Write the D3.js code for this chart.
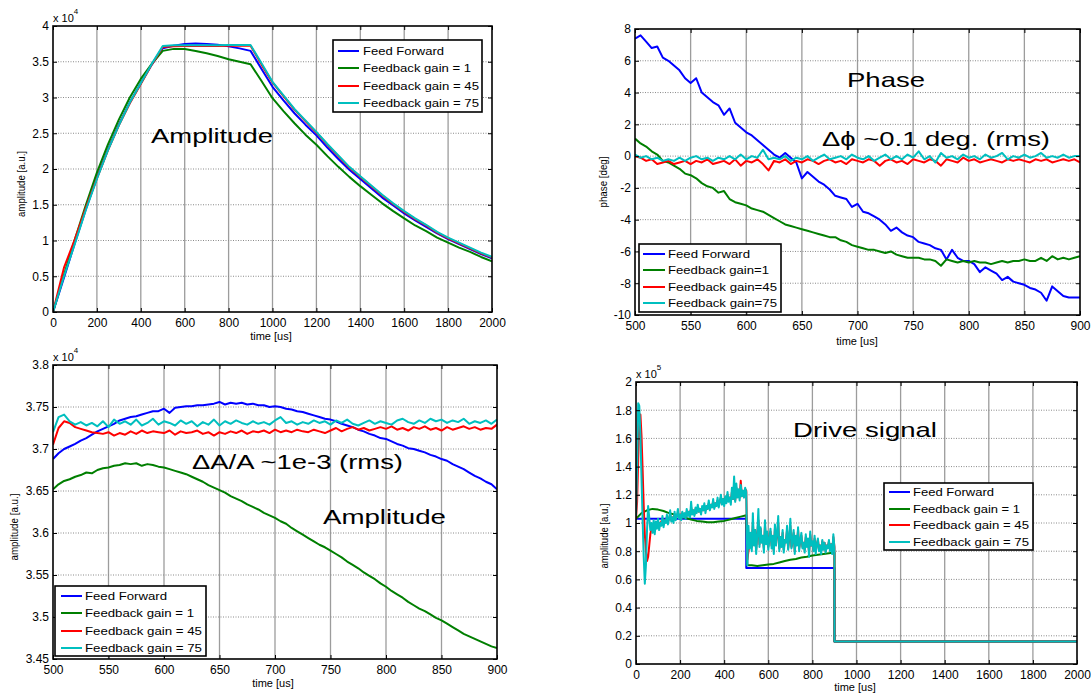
<!DOCTYPE html>
<html>
<head>
<meta charset="utf-8">
<script src="https://cdn.jsdelivr.net/npm/d3@7"></script>
<style>
  html, body { margin: 0; padding: 0; background: #fff; }
  svg { display: block; }
</style>
</head>
<body>
<svg id="fig" width="1091" height="693"></svg>
<script>
// ---------- series names and colours ----------
const seriesNames = ["Feed Forward", "Feedback gain = 1", "Feedback gain = 45", "Feedback gain = 75"];
const phaseNames = ["Feed Forward", "Feedback gain=1", "Feedback gain=45", "Feedback gain=75"];
const seriesColors = ["#0000ff", "#007f00", "#ff0000", "#00bfbf"];

// ---------- panel 1: amplitude over the full pulse (x 1e4), t = 0..2000 us every 50 us ----------
const ampTime = d3.range(0, 2001, 50);
const ampFF = [0,0.48,0.97,1.44,1.88,2.27,2.62,2.93,3.20,3.46,
  3.69,3.725,3.747,3.754,3.750,3.737,3.715,3.687,3.652,
  3.40,3.15,2.96,2.78,2.62,2.47,2.30,2.14,1.99,1.86,1.73,1.60,1.49,1.38,1.28,1.19,1.10,1.02,0.95,0.88,0.81,0.75];
const ampG1 = [0,0.52,1.02,1.50,1.95,2.34,2.69,3.00,3.26,3.47,
  3.652,3.68,3.678,3.651,3.619,3.58,3.536,3.499,3.465,
  3.23,2.99,2.81,2.64,2.48,2.34,2.18,2.03,1.89,1.76,1.64,1.52,1.41,1.31,1.21,1.13,1.04,0.97,0.90,0.84,0.77,0.71];
const ampG45 = [0,0.62,1.02,1.46,1.87,2.26,2.61,2.92,3.19,3.46,
  3.705,3.718,3.72,3.72,3.72,3.722,3.725,3.725,3.725,
  3.46,3.21,3.02,2.83,2.67,2.51,2.34,2.18,2.02,1.89,1.76,1.63,1.51,1.40,1.30,1.21,1.11,1.03,0.96,0.89,0.82,0.76];
const ampG75 = [0,0.50,0.96,1.43,1.86,2.26,2.61,2.93,3.20,3.47,
  3.72,3.73,3.73,3.73,3.73,3.732,3.733,3.733,3.733,
  3.48,3.22,3.03,2.84,2.68,2.52,2.35,2.19,2.03,1.90,1.77,1.64,1.52,1.41,1.31,1.22,1.12,1.04,0.97,0.90,0.83,0.77];

// ---------- panel 2: phase during flat top, t = 500..900 us every 5 us ----------
const flatTime = d3.range(500, 901, 5);
const phaseFF = [7.4,7.6,7.2,6.8,6.9,6.2,6.0,5.7,5.4,4.9,
  4.6,4.9,4.0,3.7,3.4,3.2,2.6,3.0,2.1,1.8,
  1.5,1.3,1.0,0.7,0.4,0.1,-0.1,0.2,-0.1,-0.4,
  -1.4,-1.0,-1.3,-1.6,-1.8,-2.1,-2.5,-2.6,-2.7,-3.2,
  -3.0,-3.5,-3.6,-3.8,-4.0,-4.3,-4.7,-4.5,-4.8,-5.0,
  -5.1,-5.4,-5.5,-5.6,-5.8,-5.9,-6.5,-5.9,-6.4,-6.6,
  -6.6,-6.8,-7.3,-7.0,-7.2,-7.4,-7.8,-7.6,-7.9,-8.0,
  -8.1,-8.3,-8.4,-8.6,-9.1,-8.2,-8.5,-8.8,-8.9,-8.9,
  -8.9];
const phaseG1 = [1.1,0.8,0.6,0.3,0.1,-0.3,-0.4,-0.6,-0.8,-1.1,
  -1.2,-1.4,-1.7,-1.9,-2.0,-2.3,-2.2,-2.7,-2.9,-3.0,
  -3.1,-3.3,-3.4,-3.5,-3.7,-3.9,-4.1,-4.3,-4.4,-4.5,
  -4.6,-4.7,-4.8,-4.9,-5.0,-5.1,-5.1,-5.3,-5.4,-5.6,
  -5.7,-5.8,-5.9,-5.9,-6.0,-6.1,-6.0,-6.2,-6.3,-6.4,
  -6.4,-6.4,-6.5,-6.5,-6.6,-6.9,-6.5,-6.6,-6.7,-6.6,
  -6.7,-6.6,-6.7,-6.7,-6.8,-6.7,-6.6,-6.7,-6.6,-6.6,
  -6.5,-6.6,-6.6,-6.4,-6.6,-6.3,-6.5,-6.4,-6.5,-6.4,
  -6.3];
const phaseG45 = [0.0,-0.1,-0.3,-0.2,-0.5,-0.4,-0.3,-0.5,-0.4,-0.3,
  -0.5,-0.3,-0.4,-0.2,-0.5,-0.4,-0.3,-0.5,-0.2,-0.6,
  -0.3,-0.4,-0.2,-0.5,-0.9,-0.3,-0.4,-0.2,-0.5,-0.3,
  -0.4,-0.2,-0.3,-0.5,-0.3,-0.2,-0.4,-0.3,-0.5,-0.2,
  -0.3,-0.4,-0.2,-0.3,-0.6,-0.3,-0.2,-0.4,-0.3,-0.5,
  -0.2,-0.3,-0.4,-0.2,-0.3,-0.6,-0.2,-0.3,-0.4,-0.1,
  -0.3,-0.2,-0.4,-0.3,-0.2,-0.3,-0.4,-0.2,-0.3,-0.2,
  -0.3,-0.4,-0.2,-0.3,-0.2,-0.4,-0.3,-0.2,-0.3,-0.2,
  -0.4];
const phaseG75 = [0.1,-0.1,0.0,-0.2,-0.1,-0.3,-0.2,-0.3,-0.1,-0.3,
  -0.1,0.0,-0.2,-0.1,-0.3,-0.1,-0.2,0.0,-0.2,0.1,
  -0.2,0.0,-0.1,0.4,-0.2,-0.1,-0.2,0.0,-0.3,-0.1,
  -0.2,0.0,-0.3,-0.1,0.1,-0.2,-0.1,0.0,-0.2,0.1,
  -0.1,-0.2,0.0,-0.3,-0.1,0.1,-0.2,0.0,-0.2,0.1,
  -0.1,0.3,-0.2,0.0,-0.4,0.2,-0.1,0.0,-0.2,0.1,
  -0.1,0.0,-0.2,0.1,-0.1,0.0,0.2,-0.2,0.0,-0.1,
  0.1,-0.1,0.0,0.2,-0.1,0.0,-0.1,0.1,-0.1,0.0,
  0.0];

// ---------- panel 3: amplitude during flat top (x 1e4), t = 500..900 us every 5 us ----------
const flatFF = [3.688,3.695,3.700,3.703,3.706,3.710,3.713,3.717,3.721,3.724,
  3.727,3.730,3.734,3.736,3.738,3.739,3.741,3.743,3.745,3.745,
  3.748,3.743,3.749,3.750,3.751,3.751,3.752,3.752,3.753,3.754,
  3.756,3.753,3.755,3.754,3.755,3.753,3.754,3.752,3.752,3.750,
  3.751,3.750,3.748,3.747,3.745,3.744,3.742,3.740,3.738,3.736,
  3.735,3.733,3.730,3.728,3.726,3.723,3.721,3.718,3.716,3.713,
  3.712,3.709,3.706,3.704,3.701,3.700,3.698,3.696,3.693,3.691,
  3.688,3.686,3.682,3.679,3.676,3.672,3.668,3.665,3.661,3.658,
  3.652];
const flatG1 = [3.652,3.658,3.662,3.664,3.667,3.669,3.672,3.671,3.675,3.677,
  3.678,3.680,3.681,3.683,3.682,3.683,3.680,3.682,3.681,3.679,
  3.678,3.676,3.674,3.672,3.670,3.667,3.664,3.661,3.657,3.654,
  3.651,3.648,3.644,3.641,3.638,3.634,3.631,3.628,3.624,3.621,
  3.618,3.614,3.611,3.606,3.602,3.598,3.594,3.590,3.586,3.583,
  3.579,3.575,3.571,3.566,3.562,3.558,3.553,3.549,3.545,3.540,
  3.536,3.531,3.527,3.523,3.518,3.514,3.510,3.507,3.503,3.499,
  3.496,3.492,3.488,3.484,3.480,3.477,3.474,3.471,3.468,3.465,
  3.463];
const flatG45 = [3.705,3.725,3.733,3.731,3.726,3.724,3.722,3.720,3.719,3.718,
  3.720,3.716,3.719,3.717,3.721,3.718,3.722,3.719,3.721,3.720,
  3.719,3.722,3.717,3.721,3.719,3.720,3.722,3.718,3.720,3.716,
  3.720,3.718,3.721,3.719,3.722,3.718,3.721,3.720,3.722,3.719,
  3.723,3.720,3.722,3.720,3.723,3.721,3.720,3.723,3.721,3.719,
  3.722,3.725,3.721,3.724,3.726,3.723,3.725,3.722,3.724,3.726,
  3.724,3.727,3.723,3.725,3.722,3.726,3.724,3.727,3.723,3.725,
  3.722,3.726,3.723,3.725,3.727,3.724,3.726,3.723,3.725,3.724,
  3.729];
const flatG75 = [3.720,3.738,3.741,3.733,3.729,3.732,3.728,3.731,3.727,3.733,
  3.726,3.735,3.730,3.733,3.729,3.735,3.728,3.731,3.736,3.729,
  3.733,3.731,3.728,3.734,3.730,3.733,3.727,3.732,3.729,3.735,
  3.728,3.733,3.730,3.734,3.731,3.729,3.733,3.730,3.732,3.729,
  3.734,3.738,3.731,3.733,3.729,3.732,3.730,3.734,3.731,3.733,
  3.729,3.734,3.731,3.735,3.730,3.728,3.731,3.734,3.730,3.733,
  3.731,3.729,3.734,3.736,3.732,3.730,3.734,3.731,3.736,3.733,
  3.735,3.731,3.734,3.732,3.736,3.730,3.733,3.731,3.734,3.730,
  3.735];

// ---------- panel 4: drive signal (x 1e5) ----------
const driveFFTime = [0, 500, 500, 900, 900, 2000];
const driveFF = [1.03, 1.03, 0.68, 0.68, 0.16, 0.16];
const driveG1Time = [0,25,50,75,100,125,150,175,200,225,250,275,300,325,350,375,400,425,450,475,500,
  505,525,550,575,600,625,650,675,700,725,750,775,800,825,850,875,900,900,2000];
const driveG1 = [1.03,1.07,1.09,1.10,1.095,1.085,1.07,1.06,1.045,1.035,1.025,1.015,1.01,1.005,1.005,1.01,1.015,1.025,1.035,1.045,1.055,
  0.70,0.70,0.695,0.70,0.705,0.71,0.72,0.73,0.74,0.745,0.755,0.76,0.77,0.775,0.78,0.785,0.79,0.16,0.16];
// 0..900 us every 5 us, then the final step down held to 2000 us
const driveTime = d3.range(0, 901, 5).concat([900, 2000]);
const driveG45 = [1.03,1.15,1.45,1.70,1.77,1.62,1.38,1.12,0.92,0.80,
  0.73,0.76,0.84,0.92,0.96,0.95,0.98,0.96,0.99,0.98,
  1.01,0.98,1.00,1.01,1.03,0.99,1.02,1.01,1.04,1.01,
  1.03,1.06,1.02,1.04,1.02,1.06,1.03,1.05,1.07,1.04,
  1.06,1.03,1.07,1.05,1.06,1.04,1.08,1.06,1.08,1.05,
  1.11,1.07,1.09,1.06,1.10,1.08,1.11,1.08,1.10,1.08,
  1.11,1.09,1.12,1.09,1.12,1.10,1.14,1.10,1.13,1.12,
  1.15,1.11,1.14,1.13,1.16,1.12,1.15,1.18,1.14,1.17,
  1.14,1.18,1.15,1.20,1.16,1.18,1.15,1.22,1.17,1.28,
  1.16,1.25,1.19,1.23,1.18,1.30,1.19,1.22,1.20,1.24,
  1.23,0.74,0.80,0.85,0.90,0.83,1.00,0.86,0.95,0.81,
  0.92,1.02,0.85,0.96,0.87,0.90,0.82,0.98,0.86,0.93,
  0.83,0.89,0.94,0.84,0.90,0.80,0.96,0.85,0.92,1.00,
  0.82,0.90,0.84,0.93,0.81,0.88,0.87,0.95,0.82,0.89,
  0.98,0.83,0.87,0.93,0.80,0.90,0.85,0.95,0.82,0.87,
  0.91,0.83,0.86,0.81,0.90,0.84,0.88,0.79,0.92,0.84,
  0.86,0.81,0.89,0.80,0.85,0.88,0.81,0.84,0.80,0.87,
  0.82,0.86,0.80,0.84,0.83,0.87,0.81,0.85,0.80,0.90,
  0.83,0.16,0.16];
const driveG75 = [1.05,1.40,1.85,1.83,1.62,1.32,1.02,0.76,0.57,0.70,
  0.95,1.12,1.04,0.95,1.00,0.93,1.02,0.92,1.01,0.96,
  1.03,0.95,1.00,0.98,1.05,0.97,1.02,1.00,1.06,0.99,
  1.03,1.09,1.01,1.04,1.00,1.08,1.02,1.05,1.10,1.03,
  1.06,1.02,1.08,1.04,1.07,1.03,1.10,1.05,1.08,1.04,
  1.15,1.06,1.09,1.05,1.11,1.07,1.13,1.08,1.10,1.06,
  1.12,1.09,1.14,1.07,1.12,1.10,1.16,1.09,1.13,1.11,
  1.17,1.10,1.14,1.12,1.18,1.11,1.15,1.20,1.13,1.17,
  1.12,1.19,1.14,1.22,1.15,1.18,1.13,1.25,1.17,1.33,
  1.15,1.28,1.18,1.24,1.16,1.27,1.19,1.23,1.18,1.25,
  1.22,0.70,0.98,0.82,0.93,0.80,1.07,0.84,0.95,0.78,
  0.92,1.10,0.83,0.97,0.86,0.91,0.79,1.02,0.85,0.94,
  0.81,0.89,0.96,0.82,0.91,0.78,0.99,0.84,0.93,1.05,
  0.80,0.90,0.83,0.95,0.79,0.88,0.86,0.98,0.81,0.90,
  1.03,0.82,0.87,0.95,0.78,0.91,0.84,0.97,0.80,0.88,
  0.93,0.82,0.86,0.79,0.92,0.83,0.89,0.76,0.94,0.84,
  0.87,0.80,0.91,0.78,0.85,0.89,0.80,0.84,0.78,0.88,
  0.81,0.86,0.79,0.84,0.82,0.88,0.80,0.85,0.78,0.92,
  0.82,0.16,0.16];

// ---------- tick values ----------
const ticksT2000 = d3.range(0, 2001, 200);
const ticksT900 = d3.range(500, 901, 50);
const ticksAmp = [0, 0.5, 1, 1.5, 2, 2.5, 3, 3.5, 4];
const ticksPhase = [-10, -8, -6, -4, -2, 0, 2, 4, 6, 8];
const ticksFlat = [3.45, 3.5, 3.55, 3.6, 3.65, 3.7, 3.75, 3.8];
const ticksDrive = [0, 0.2, 0.4, 0.6, 0.8, 1, 1.2, 1.4, 1.6, 1.8, 2];

// ---------- drawing ----------
const FONT = "'Liberation Sans', Arial, Helvetica, sans-serif";
const svg = d3.select("#fig");
svg.append("rect").attr("width", 1091).attr("height", 693).attr("fill", "#fff");

const fmt = d => String(+d.toFixed(2));

function drawPanel(p, idx) {
  const g = svg.append("g");
  const x = d3.scaleLinear().domain(p.xDomain).range([p.box[0], p.box[2]]);
  const y = d3.scaleLinear().domain(p.yDomain).range([p.box[3], p.box[1]]);
  const [L, T, R, B] = p.box;

  // grid: solid vertical lines, dotted horizontal lines
  g.append("g").selectAll("line").data(p.xTicks.slice(1, -1)).join("line")
    .attr("x1", d => x(d)).attr("x2", d => x(d)).attr("y1", T).attr("y2", B)
    .attr("stroke", "#9c9c9c").attr("stroke-width", 1.3);
  g.append("g").selectAll("line").data(p.yTicks.slice(1, -1)).join("line")
    .attr("x1", L).attr("x2", R).attr("y1", d => y(d)).attr("y2", d => y(d))
    .attr("stroke", "#8a8a8a").attr("stroke-width", 1).attr("stroke-dasharray", "1,1.5");

  // data lines
  const clipId = "clip" + idx;
  svg.append("clipPath").attr("id", clipId).append("rect")
    .attr("x", L).attr("y", T).attr("width", R - L).attr("height", B - T);
  const lg = g.append("g").attr("clip-path", `url(#${clipId})`);
  p.series.forEach((s, i) => {
    const pts = s.v.map((v, k) => [s.t[k], v]);
    lg.append("path")
      .attr("d", d3.line().x(d => x(d[0])).y(d => y(d[1]))(pts))
      .attr("fill", "none").attr("stroke", seriesColors[i])
      .attr("stroke-width", 2).attr("stroke-linejoin", "round");
  });

  // axes with inward ticks on all four sides
  const styleAxis = sel => {
    sel.select(".domain").remove();
    sel.selectAll(".tick line").attr("stroke", "#000").attr("stroke-width", 1);
    sel.selectAll("text").attr("font-family", FONT).attr("font-size", 12).attr("fill", "#000");
  };
  g.append("g").attr("transform", `translate(0,${B})`)
    .call(d3.axisBottom(x).tickValues(p.xTicks).tickSize(-4).tickPadding(6).tickFormat(fmt)).call(styleAxis);
  g.append("g").attr("transform", `translate(0,${T})`)
    .call(d3.axisTop(x).tickValues(p.xTicks).tickSize(-4).tickFormat("")).call(styleAxis);
  g.append("g").attr("transform", `translate(${L},0)`)
    .call(d3.axisLeft(y).tickValues(p.yTicks).tickSize(-4).tickPadding(4).tickFormat(fmt)).call(styleAxis);
  g.append("g").attr("transform", `translate(${R},0)`)
    .call(d3.axisRight(y).tickValues(p.yTicks).tickSize(-4).tickFormat("")).call(styleAxis);

  // frame
  g.append("rect").attr("x", L).attr("y", T).attr("width", R - L).attr("height", B - T)
    .attr("fill", "none").attr("stroke", "#000").attr("stroke-width", 1.6);

  // exponent marker
  if (p.exponent) {
    const e = g.append("text").attr("x", L).attr("y", T - 4)
      .attr("font-family", FONT).attr("font-size", 11).attr("fill", "#000");
    e.append("tspan").text("x 10");
    e.append("tspan").attr("dy", -8).attr("font-size", 8).text(p.exponent);
  }

  // axis titles
  g.append("text").attr("x", p.xLabel[0]).attr("y", p.xLabel[1]).attr("text-anchor", "middle")
    .attr("font-family", FONT).attr("font-size", 11).attr("fill", "#000").text("time [us]");
  g.append("text")
    .attr("transform", `translate(${p.yLabel[0]},${p.yLabel[1]}) rotate(-90)`)
    .attr("text-anchor", "middle").attr("font-family", FONT).attr("font-size", 11)
    .attr("textLength", p.yLabel[3]).attr("lengthAdjust", "spacingAndGlyphs")
    .attr("fill", "#000").text(p.yLabel[2]);

  // annotations
  p.notes.forEach(n => {
    g.append("text").attr("x", n.x).attr("y", n.y)
      .attr("font-family", FONT).attr("font-size", 21).attr("fill", "#000")
      .attr("textLength", n.w).attr("lengthAdjust", "spacingAndGlyphs").text(n.text);
  });

  // legend
  const lgd = p.legend;
  g.append("rect").attr("x", lgd.box[0]).attr("y", lgd.box[1])
    .attr("width", lgd.box[2] - lgd.box[0]).attr("height", lgd.box[3] - lgd.box[1])
    .attr("fill", "#fff").attr("stroke", "#000").attr("stroke-width", 1.6);
  p.names.forEach((name, i) => {
    const yy = lgd.rows[i];
    g.append("line").attr("x1", lgd.line[0]).attr("x2", lgd.line[1]).attr("y1", yy).attr("y2", yy)
      .attr("stroke", seriesColors[i]).attr("stroke-width", 2);
    g.append("text").attr("x", lgd.textX).attr("y", yy + 4)
      .attr("font-family", FONT).attr("font-size", 11.5).attr("fill", "#000")
      .attr("textLength", lgd.widths[i]).attr("lengthAdjust", "spacingAndGlyphs").text(name);
  });
}

const panels = [
  {
    box: [53, 26, 492, 312], xDomain: [0, 2000], yDomain: [0, 4],
    xTicks: ticksT2000, yTicks: ticksAmp, exponent: "4",
    series: [
      { t: ampTime, v: ampFF }, { t: ampTime, v: ampG1 },
      { t: ampTime, v: ampG45 }, { t: ampTime, v: ampG75 }
    ],
    names: seriesNames,
    xLabel: [271, 340], yLabel: [25, 184, "amplitude [a.u.]", 66],
    notes: [{ text: "Amplitude", x: 151, y: 143, w: 122 }],
    legend: { box: [333, 40, 482, 112], rows: [51, 68, 86, 103], line: [338, 359], textX: 363, widths: [81, 108, 116, 116] }
  },
  {
    box: [635, 29, 1080, 315], xDomain: [500, 900], yDomain: [-10, 8],
    xTicks: ticksT900, yTicks: ticksPhase, exponent: null,
    series: [
      { t: flatTime, v: phaseFF }, { t: flatTime, v: phaseG1 },
      { t: flatTime, v: phaseG45 }, { t: flatTime, v: phaseG75 }
    ],
    names: phaseNames,
    xLabel: [857, 345], yLabel: [607, 182, "phase [deg]", 51],
    notes: [
      { text: "Phase", x: 847, y: 87, w: 78 },
      { text: "\u0394\u03d5 ~0.1 deg. (rms)", x: 822, y: 146, w: 228 }
    ],
    legend: { box: [639, 244, 781, 312], rows: [254, 270, 287, 303], line: [643, 665], textX: 668, widths: [82, 101, 109, 109] }
  },
  {
    box: [53, 365, 497, 659], xDomain: [500, 900], yDomain: [3.45, 3.8],
    xTicks: ticksT900, yTicks: ticksFlat, exponent: "4",
    series: [
      { t: flatTime, v: flatFF }, { t: flatTime, v: flatG1 },
      { t: flatTime, v: flatG45 }, { t: flatTime, v: flatG75 }
    ],
    names: seriesNames,
    xLabel: [273, 687], yLabel: [18, 527, "amplitude [a.u.]", 67],
    notes: [
      { text: "\u0394A/A ~1e-3 (rms)", x: 192, y: 469, w: 211 },
      { text: "Amplitude", x: 323, y: 524, w: 123 }
    ],
    legend: { box: [55, 586, 206, 656], rows: [596, 613, 631, 648], line: [61, 82], textX: 85, widths: [82, 109, 117, 117] }
  },
  {
    box: [636, 382, 1077, 664], xDomain: [0, 2000], yDomain: [0, 2],
    xTicks: ticksT2000, yTicks: ticksDrive, exponent: "5",
    series: [
      { t: driveFFTime, v: driveFF }, { t: driveG1Time, v: driveG1 },
      { t: driveTime, v: driveG45 }, { t: driveTime, v: driveG75 }
    ],
    names: seriesNames,
    xLabel: [855, 691], yLabel: [608, 536, "amplitude [a.u.]", 65],
    notes: [{ text: "Drive signal", x: 793, y: 437, w: 144 }],
    legend: { box: [884, 483, 1033, 550], rows: [492, 509, 525, 542], line: [889, 910], textX: 913, widths: [81, 107, 116, 116] }
  }
];

panels.forEach(drawPanel);
</script>
</body>
</html>
